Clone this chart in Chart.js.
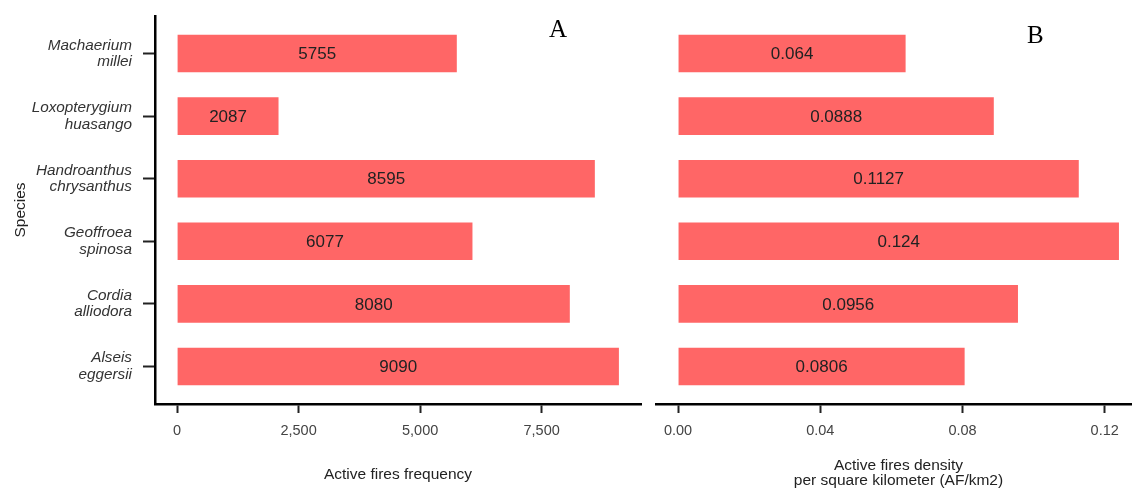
<!DOCTYPE html>
<html>
<head>
<meta charset="utf-8">
<title>Active fires by species</title>
<script src="https://cdn.jsdelivr.net/npm/chart.js@4.4.1/dist/chart.umd.min.js"></script>
<style>
  html, body { margin: 0; padding: 0; background: #fff; width: 1132px; height: 488px; overflow: hidden; }
  canvas { position: absolute; top: 0; }
  #panelA { left: 0; }
  #panelB { left: 648px; }
  .tag { position: absolute; font-family: "Liberation Serif", "Times New Roman", serif; font-size: 25px; line-height: 25px; color: #000; }
</style>
</head>
<body>
<canvas id="panelA" width="648" height="488"></canvas>
<canvas id="panelB" width="500" height="488"></canvas>
<div class="tag" style="left:549px; top:16px;">A</div>
<div class="tag" style="left:1027px; top:22px;">B</div>
<script>
// Species, listed top to bottom
const species = [
  'Machaerium millei',
  'Loxopterygium huasango',
  'Handroanthus chrysanthus',
  'Geoffroea spinosa',
  'Cordia alliodora',
  'Alseis eggersii'
];

// Number of active fires per species range
const frequency = [5755, 2087, 8595, 6077, 8080, 9090];

// Active fires per square kilometre
const density = [0.064, 0.0888, 0.1127, 0.124, 0.0956, 0.0806];

// Axis tick values
const frequencyTicks = [0, 2500, 5000, 7500];
const densityTicks = [0, 0.04, 0.08, 0.12];

const BAR_COLOR = '#FF6666';
const SANS = '"Liberation Sans", Arial, Helvetica, sans-serif';

Chart.defaults.font.family = SANS;
Chart.defaults.color = '#333';

// Writes each bar's value in the middle of the bar
const barValueLabels = {
  id: 'barValueLabels',
  afterDatasetsDraw(chart) {
    const ctx = chart.ctx;
    const ds = chart.data.datasets[0];
    const meta = chart.getDatasetMeta(0);
    ctx.save();
    ctx.font = '17px ' + SANS;
    ctx.fillStyle = '#222';
    ctx.textAlign = 'center';
    ctx.textBaseline = 'middle';
    meta.data.forEach((bar, i) => {
      const { x, y, base } = bar.getProps(['x', 'y', 'base'], true);
      ctx.fillText(String(ds.data[i].x), (x + base) / 2, y + 1);
    });
    ctx.restore();
  }
};

function makePanel(canvasId, values, tickValues, formatTick, xTitle, withSpeciesAxis, padding) {
  const top = Math.max(...values);
  const spread = top * 0.05;

  return new Chart(document.getElementById(canvasId), {
    type: 'bar',
    data: {
      datasets: [{
        data: values.map((v, i) => ({ x: v, y: i })),
        backgroundColor: BAR_COLOR,
        borderWidth: 0,
        barPercentage: 0.6,
        categoryPercentage: 1.0
      }]
    },
    plugins: [barValueLabels],
    options: {
      indexAxis: 'y',
      responsive: false,
      animation: false,
      devicePixelRatio: 1,
      layout: { padding },
      plugins: {
        legend: { display: false },
        tooltip: { enabled: false }
      },
      scales: {
        x: {
          type: 'linear',
          min: -spread,
          max: top + spread,
          afterBuildTicks: s => { s.ticks = tickValues.map(v => ({ value: v })); },
          afterFit: s => { s.height = 84; s.paddingLeft = 0; s.paddingRight = 0; },
          ticks: {
            callback: v => formatTick(v),
            font: { size: 14.5 },
            color: '#444',
            padding: 9,
            maxRotation: 0,
            autoSkip: false
          },
          grid: {
            drawOnChartArea: false,
            drawTicks: true,
            tickLength: 9,
            tickWidth: 2,
            tickColor: '#222'
          },
          border: { display: true, color: '#000', width: 2.5 },
          title: {
            display: true,
            text: xTitle,
            color: '#222',
            font: { size: 15.5, lineHeight: '15px' },
            padding: { top: 0, bottom: Array.isArray(xTitle) ? 0 : 6 }
          }
        },
        y: {
          type: 'linear',
          reverse: true,
          offset: false,
          min: -0.6,
          max: species.length - 0.4,
          display: withSpeciesAxis,
          afterBuildTicks: s => { s.ticks = species.map((_, i) => ({ value: i })); },
          afterFit: s => {
            s.paddingTop = 0;
            s.paddingBottom = 0;
            if (withSpeciesAxis) s.width = 155;
          },
          ticks: {
            callback: v => species[v] ? species[v].split(' ') : '',
            font: { size: 15.3, style: 'italic', lineHeight: '16.5px' },
            color: '#333',
            padding: 11,
            autoSkip: false
          },
          grid: {
            offset: false,
            drawOnChartArea: false,
            drawTicks: true,
            tickLength: 12,
            tickWidth: 2,
            tickColor: '#222'
          },
          border: { display: true, color: '#000', width: 2.5 },
          title: {
            display: true,
            text: 'Species',
            color: '#222',
            font: { size: 15.5, lineHeight: '18px' },
            padding: { top: 12, bottom: 0 }
          }
        }
      }
    }
  });
}

makePanel('panelA', frequency, frequencyTicks,
  v => v.toLocaleString('en-US'),
  'Active fires frequency', true,
  { top: 16, right: 7, bottom: 0, left: 0 });

makePanel('panelB', density, densityTicks,
  v => v.toFixed(2),
  ['Active fires density', 'per square kilometer (AF/km2)'], false,
  { top: 16, right: 7, bottom: 0, left: 8 });
</script>
</body>
</html>
